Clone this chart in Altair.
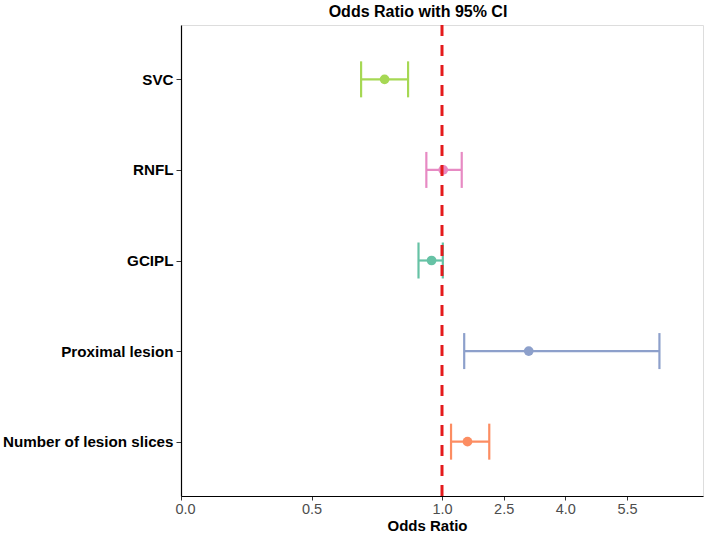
import altair as alt
import pandas as pd

# Forest plot of odds ratios with 95% confidence intervals
variables = ["SVC", "RNFL", "GCIPL", "Proximal lesion", "Number of lesion slices"]
odds_ratio = [0.78, 1.03, 0.96, 3.11, 1.62]
ci_lower = [0.69, 0.94, 0.91, 1.54, 1.22]
ci_upper = [0.87, 1.48, 1.02, 6.29, 2.15]
colors = ["#A6D854", "#E78AC3", "#66C2A5", "#8DA0CB", "#FC8D62"]

x_ticks = [0.0, 0.5, 1.0, 2.5, 4.0, 5.5]
reference_or = [1.0]

df = pd.DataFrame({
    "variable": variables,
    "or": odds_ratio,
    "lo": ci_lower,
    "hi": ci_upper,
})
ref = pd.DataFrame({"ref": reference_or})

FONT = "Liberation Sans"

# piecewise axis: values below 1 get the wide part, above 1 the compressed part
x_scale = alt.Scale(domain=[0, 1, 7.35], range=[0, 261, 522], nice=False, zero=False)
y_scale = alt.Scale(type="point", padding=0.6)

color = alt.Color("variable:N", scale=alt.Scale(domain=variables, range=colors), legend=None)

y_enc = alt.Y(
    "variable:N",
    sort=variables,
    scale=y_scale,
    axis=alt.Axis(
        title=None,
        labelFont=FONT,
        labelFontSize=15.2,
        labelFontWeight="bold",
        labelColor="black",
        labelPadding=3,
        tickSize=5,
        tickColor="#333333",
        domainColor="black",
        domainWidth=1.2,
        grid=False,
    ),
)

x_axis = alt.Axis(
    values=x_ticks,
    format=".1f",
    title="Odds Ratio",
    titleFont=FONT,
    titleFontSize=15,
    titleFontWeight="bold",
    titleColor="black",
    titlePadding=3,
    titleX=246,
    titleAlign="center",
    labelFont=FONT,
    labelFontSize=14.5,
    labelColor="#4D4D4D",
    labelPadding=2,
    labelFlushOffset=6,
    tickSize=4,
    tickColor="#333333",
    domainColor="black",
    domainWidth=1.2,
    grid=False,
)

base = alt.Chart(df)

bars = base.mark_rule(strokeWidth=2.2).encode(
    x=alt.X("lo:Q", scale=x_scale, axis=x_axis),
    x2="hi:Q",
    y=y_enc,
    color=color,
)

caps_lo = base.mark_tick(size=36, thickness=2.2, opacity=1).encode(
    x=alt.X("lo:Q", scale=x_scale),
    y=alt.Y("variable:N", sort=variables, scale=y_scale),
    color=color,
)

caps_hi = base.mark_tick(size=36, thickness=2.2, opacity=1).encode(
    x=alt.X("hi:Q", scale=x_scale),
    y=alt.Y("variable:N", sort=variables, scale=y_scale),
    color=color,
)

points = base.mark_circle(size=95, opacity=1).encode(
    x=alt.X("or:Q", scale=x_scale),
    y=alt.Y("variable:N", sort=variables, scale=y_scale),
    color=color,
)

ref_line = alt.Chart(ref).mark_rule(
    color="#E41A1C", strokeWidth=3, strokeDash=[11, 9]
).encode(x=alt.X("ref:Q", scale=x_scale))

chart = (
    alt.layer(bars, caps_lo, caps_hi, points, ref_line)
    .properties(
        width=522,
        height=471,
        title=alt.TitleParams(
            "Odds Ratio with 95% CI",
            font=FONT,
            fontSize=16,
            fontWeight="bold",
            color="black",
            anchor="middle",
            dx=-24,
            offset=4,
        ),
        autosize=alt.AutoSizeParams(type="none"),
        padding={"left": 181, "top": 25, "right": 6, "bottom": 42},
    )
    .configure_view(stroke=None)
    .configure(background="white")
)

chart.save("out.html", embed_options={"renderer": "svg", "actions": False})
